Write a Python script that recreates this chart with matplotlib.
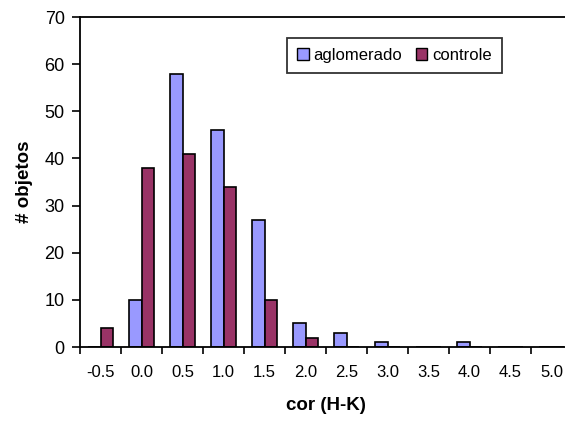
import numpy as np
import matplotlib
matplotlib.use("Agg")
from matplotlib import pyplot as plt
from matplotlib.patches import Patch

plt.rcParams['font.family'] = ['Liberation Sans', 'DejaVu Sans']

categories = ["-0.5", "0.0", "0.5", "1.0", "1.5", "2.0", "2.5", "3.0", "3.5", "4.0", "4.5", "5.0"]
aglomerado = [0, 10, 58, 46, 27, 5, 3, 1, 0, 1, 0, 0]
controle = [4, 38, 41, 34, 10, 2, 0, 0, 0, 0, 0, 0]

blue = "#9999FF"
maroon = "#993366"

fig = plt.figure(figsize=(5.65, 4.23), dpi=100)
ax = fig.add_axes([80 / 565, 76 / 423, 492 / 565, 330 / 423])

x = np.arange(len(categories))
w = 0.31
ax.bar(x - w / 2, aglomerado, width=w, color=blue, edgecolor="black", linewidth=1.2)
ax.bar(x + w / 2, controle, width=w, color=maroon, edgecolor="black", linewidth=1.2)

ax.set_xlim(-0.5, len(categories) - 0.5)
ax.set_ylim(0, 70)

# excel style: tick marks between categories, labels centred
ax.set_xticks(np.arange(-0.5, len(categories) + 0.5, 1.0))
ax.set_xticklabels([])
ax.set_xticks(x, minor=True)
ax.set_xticklabels(categories, minor=True, fontsize=12)
ax.tick_params(axis="x", which="major", direction="out", length=5, width=1.2)
ax.tick_params(axis="x", which="minor", length=0, pad=13)

ax.set_yticks(range(0, 71, 10))
ax.tick_params(axis="y", direction="out", length=6, width=1.2, labelsize=13, pad=5)

for side in ["left", "bottom", "top"]:
    ax.spines[side].set_linewidth(1.3)
ax.spines["right"].set_visible(False)

ax.set_xlabel("cor (H-K)", fontsize=13.5, fontweight="bold", labelpad=12)
ax.set_ylabel("# objetos", fontsize=13.5, fontweight="bold", labelpad=8)

handles = [Patch(facecolor=blue, edgecolor="black", label="aglomerado"),
           Patch(facecolor=maroon, edgecolor="black", label="controle")]
leg = ax.legend(handles=handles, ncol=2, loc="upper left",
                bbox_to_anchor=((287 - 80) / 492, 1 - (38 - 17) / 330),
                fontsize=12, frameon=True, fancybox=False, edgecolor="black",
                handlelength=0.7, handleheight=0.7, handletextpad=0.3,
                columnspacing=0.8, borderpad=0.6, borderaxespad=0)
leg.get_frame().set_linewidth(1.3)

plt.savefig("out.png", dpi=100)
